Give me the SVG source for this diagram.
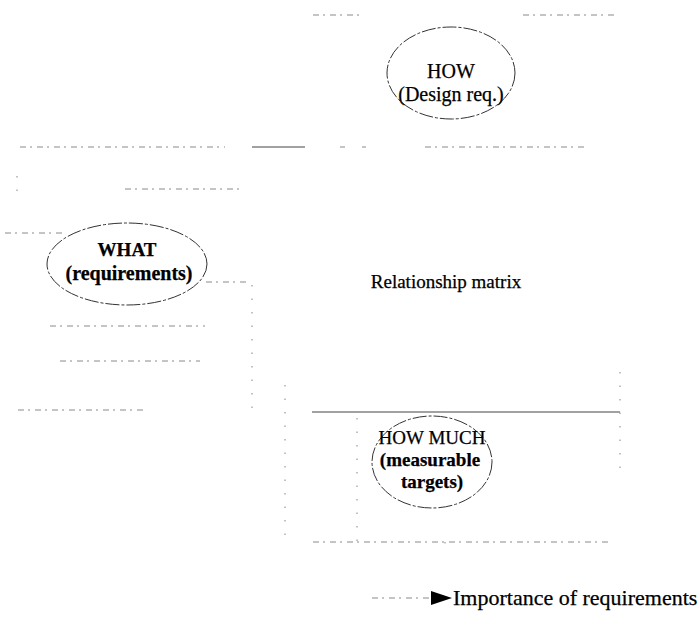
<svg xmlns="http://www.w3.org/2000/svg" width="698" height="623" viewBox="0 0 698 623">
  <style>
    .t { font-family: "Liberation Serif", "Times New Roman", serif; fill: #000; stroke: #000; stroke-width: 0.25; text-anchor: middle; }
    .b { font-weight: bold; }
    .oval { fill: none; stroke: #333; stroke-width: 1; stroke-dasharray: 14 2 3 2; }
    .faint { fill: none; stroke: #8a8a8a; stroke-width: 1; stroke-dasharray: 6 4 2 5; }
    .dots { fill: none; stroke: #999; stroke-width: 1.2; stroke-dasharray: 1.5 12; }
    .solid { fill: none; stroke: #444; stroke-width: 1.2; }
  </style>

  <!-- faded grid of the chart -->
  <g id="grid">
    <path class="faint" d="M313 15 H361 M523 15 H618"/>
    <path class="faint" d="M20 147 H225 M340 147 H345 M362 147 H366 M425 147 H585"/>
    <path class="solid" stroke-width="2" d="M252 147 H305"/>
    <path class="faint" d="M125 189 H240"/>
    <path class="faint" d="M50 326 H205 M60 361 H200 M18 410 H145"/>
    <path class="solid" d="M312 412 H620"/>
    <path class="faint" d="M313 542 H610"/>
    <path class="dots" d="M17 176 V200 M252 285 V412 M285 385 V545 M357 418 V545 M620 372 V480 M445 542 V552"/>
  </g>

  <!-- connectors -->
  <g id="connectors">
    <path class="faint" d="M5 233 H62"/>
    <path class="faint" d="M206 282 H250"/>
    <path class="faint" d="M372 598 H432"/>
    <polygon points="431,591 452,598 431,605" fill="#000"/>
  </g>

  <g id="how">
    <ellipse class="oval" cx="451" cy="73" rx="64" ry="46"/>
    <text class="t" x="451" y="78" font-size="20">HOW</text>
    <text class="t" x="451" y="101" font-size="20">(Design req.)</text>
  </g>

  <g id="what">
    <ellipse class="oval" cx="127" cy="264" rx="80" ry="41"/>
    <text class="t b" x="127" y="256" font-size="19">WHAT</text>
    <text class="t b" x="129" y="280" font-size="20">(requirements)</text>
  </g>

  <g id="matrix">
    <text class="t" x="446" y="288" font-size="19">Relationship matrix</text>
  </g>

  <g id="how-much">
    <ellipse class="oval" cx="432" cy="462" rx="60" ry="46"/>
    <text class="t" x="432" y="444" font-size="19">HOW MUCH</text>
    <text class="t b" x="430" y="466" font-size="19">(measurable</text>
    <text class="t b" x="432" y="488" font-size="19">targets)</text>
  </g>

  <g id="importance">
    <text class="t" x="453" y="605" font-size="22" style="text-anchor:start">Importance of requirements</text>
  </g>
</svg>
